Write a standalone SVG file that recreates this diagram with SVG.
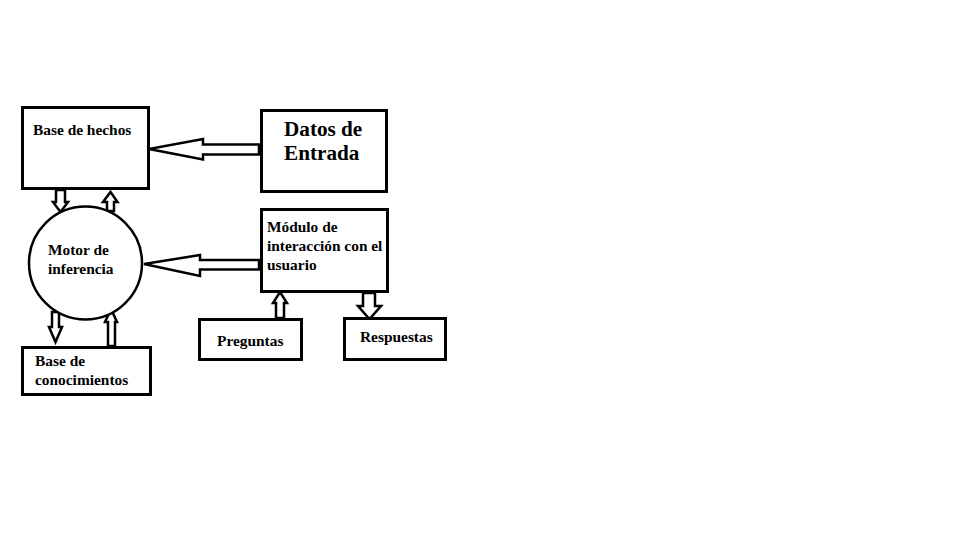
<svg xmlns="http://www.w3.org/2000/svg" width="960" height="540" viewBox="0 0 960 540">
<style>
.box{fill:#fff;stroke:#000;stroke-width:3}
.arr{fill:#fff;stroke:#000;stroke-width:2.5;stroke-linejoin:miter}
.t{font-family:"Liberation Serif","Times New Roman",serif;font-weight:bold;font-size:15.4px;fill:#000}
.tb{font-family:"Liberation Serif","Times New Roman",serif;font-weight:bold;font-size:21.2px;fill:#000}
</style>
<rect width="960" height="540" fill="#fff"/>
<g id="connectors">
<polygon class="arr" points="149,149 203,139 203,144.5 259,144.5 259,154.5 203,154.5 203,159.5"/>
<polygon class="arr" points="144,264 200,255 200,260 259,260 259,269.5 200,269.5 200,276"/>
<polygon class="arr" points="56,190 56,202 53,202 60.5,212 68,202 65,202 65,190"/>
<polygon class="arr" points="107,211 107,202 103,202 110.5,192 117.5,202 114,202 114,211"/>
<polygon class="arr" points="52,312 52,327 49,327 55.5,342 62,327 59,327 59,312"/>
<polygon class="arr" points="108,346 108,322 105,322 111,309 117,322 115,322 115,346"/>
<polygon class="arr" points="276,318 276,303 273,303 280,292 287,303 284,303 284,318"/>
<polygon class="arr" points="363,293 363,306 358,306 369.5,319 381,306 375,306 375,293"/>
</g>
<g id="base-hechos">
<rect class="box" x="22.5" y="107.5" width="126" height="81"/>
<text class="t" x="33" y="135">Base de hechos</text>
</g>
<g id="datos-entrada">
<rect class="box" x="261.5" y="110.5" width="125" height="81"/>
<text class="tb" x="284" y="136">Datos de</text>
<text class="tb" x="284" y="160">Entrada</text>
</g>
<g id="motor">
<circle cx="85.5" cy="263" r="56.5" fill="#fff" stroke="#000" stroke-width="2.5"/>
<text class="t" x="48" y="255">Motor de</text>
<text class="t" x="48" y="274">inferencia</text>
</g>
<g id="modulo">
<rect class="box" x="261.5" y="209.5" width="126" height="82"/>
<text class="t" x="267" y="232">Módulo de</text>
<text class="t" x="267" y="251">interacción con el</text>
<text class="t" x="267" y="270">usuario</text>
</g>
<g id="base-conocimientos">
<rect class="box" x="22.5" y="347.5" width="128" height="47"/>
<text class="t" x="35" y="366">Base de</text>
<text class="t" x="35" y="385">conocimientos</text>
</g>
<g id="preguntas">
<rect class="box" x="199.5" y="319.5" width="102" height="40"/>
<text class="t" x="217" y="346">Preguntas</text>
</g>
<g id="respuestas">
<rect class="box" x="344.5" y="318.5" width="101" height="41"/>
<text class="t" x="360" y="342">Respuestas</text>
</g>
</svg>
